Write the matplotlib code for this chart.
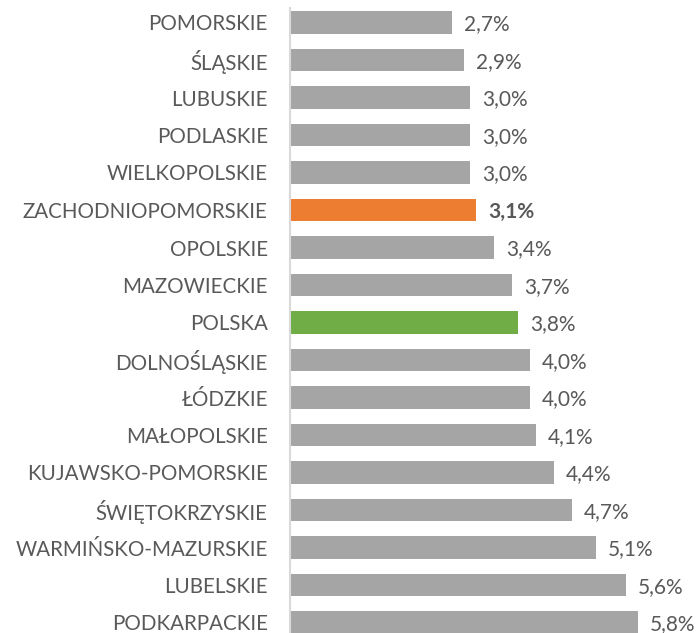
import matplotlib.pyplot as plt

regions = ['POMORSKIE', 'ŚLĄSKIE', 'LUBUSKIE', 'PODLASKIE', 'WIELKOPOLSKIE',
           'ZACHODNIOPOMORSKIE', 'OPOLSKIE', 'MAZOWIECKIE', 'POLSKA',
           'DOLNOŚLĄSKIE', 'ŁÓDZKIE', 'MAŁOPOLSKIE', 'KUJAWSKO-POMORSKIE',
           'ŚWIĘTOKRZYSKIE', 'WARMIŃSKO-MAZURSKIE', 'LUBELSKIE', 'PODKARPACKIE']
values = [2.7, 2.9, 3.0, 3.0, 3.0, 3.1, 3.4, 3.7, 3.8, 4.0, 4.0, 4.1, 4.4,
          4.7, 5.1, 5.6, 5.8]

GREY = '#A5A5A5'
ORANGE = '#ED7D31'
GREEN = '#70AD47'
TXT = '#595959'

plt.rcParams['font.family'] = ['Lato', 'DejaVu Sans']

colors = []
for r in regions:
    if r == 'ZACHODNIOPOMORSKIE':
        colors.append(ORANGE)
    elif r == 'POLSKA':
        colors.append(GREEN)
    else:
        colors.append(GREY)

fig = plt.figure(figsize=(7, 6.33), dpi=100)
ax = fig.add_axes([290 / 700, 0, 410 / 700, 1])

y = list(range(len(regions)))
ax.barh(y, values, height=0.61, color=colors)

for i, v in enumerate(values):
    bold = regions[i] == 'ZACHODNIOPOMORSKIE'
    ax.text(v + 0.2, i + 0.05, f'{v:.1f}%'.replace('.', ','), va='center', ha='left',
            fontsize=15, color=TXT, fontweight='bold' if bold else 'normal')

ax.set_xlim(0, 410 / 60)
ax.set_ylim(-0.6 + 633 / 37.5, -0.6)
ax.set_yticks(y)
ax.set_yticklabels(regions, fontsize=14.8, color=TXT)
ax.tick_params(axis='y', length=0, pad=16)
ax.set_xticks([])

for s in ['top', 'right', 'bottom']:
    ax.spines[s].set_visible(False)
ax.spines['left'].set_color('#D9D9D9')
ax.spines['left'].set_linewidth(1.5)
ax.spines['left'].set_bounds(-0.39, 16.28)

fig.savefig('out.png', dpi=100)
